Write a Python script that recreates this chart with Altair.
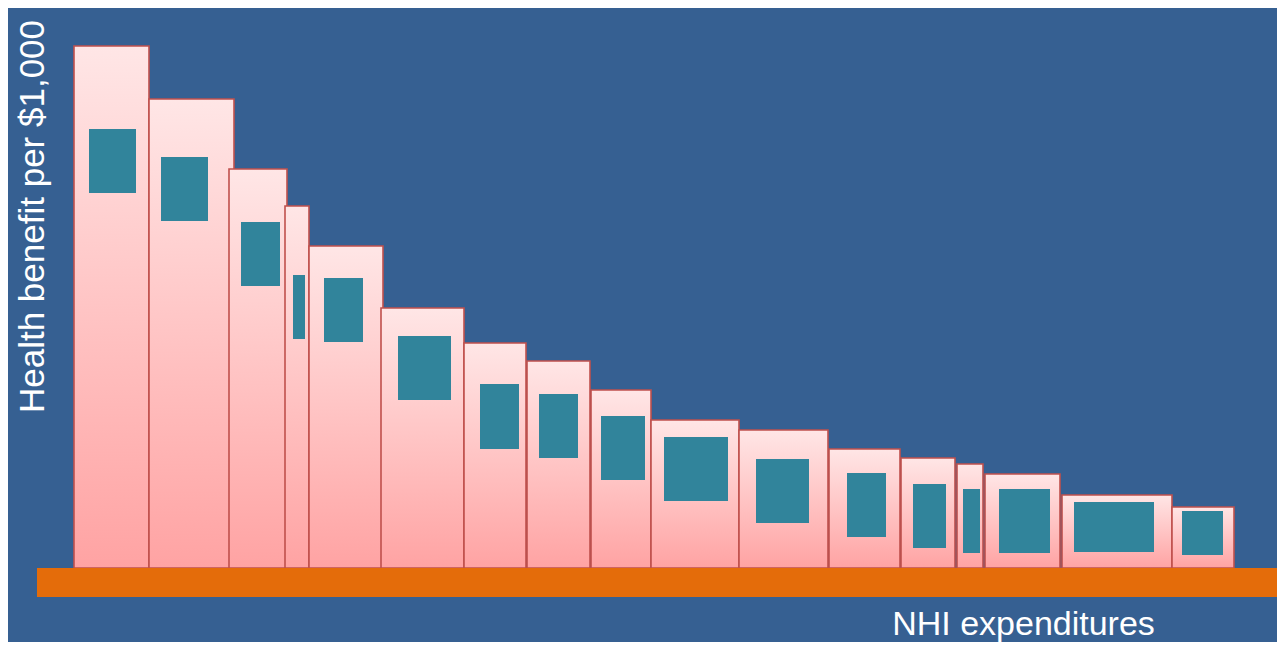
import altair as alt
import pandas as pd

# Bars: expenditure start/end and health benefit (height)
bar_x0 = [0, 75, 155, 211, 235, 307, 390, 453, 517, 577, 665, 755, 827, 883, 911, 988, 1098]
bar_x1 = [75, 160, 213, 235, 309, 390, 452, 516, 577, 665, 754, 826, 881, 909, 986, 1098, 1160]
bar_top = [522, 469, 399, 362, 322, 260, 225, 207, 178, 148, 138, 119, 110, 104, 94, 73, 61]

# Inner boxes
box_x0 = [15, 87, 167, 219, 250, 324, 406, 465, 527, 590, 682, 773, 839, 889, 925, 1000, 1108]
box_x1 = [62, 134, 206, 231, 289, 377, 445, 504, 571, 654, 735, 812, 872, 906, 976, 1080, 1149]
box_y0 = [375, 347, 282, 229, 226, 168, 119, 110, 88, 67, 45, 31, 20, 15, 15, 16, 13]
box_y1 = [439, 411, 346, 293, 290, 232, 184, 174, 152, 131, 109, 95, 84, 79, 79, 66, 57]

# Baseline band
base_x0 = [-37]
base_x1 = [1211]
base_y0 = [-29]
base_y1 = [0]

rows = []
for a, b, t in zip(bar_x0, bar_x1, bar_top):
    rows.append(dict(kind="bar", x=a, x2=b, y=0, y2=t))
for a, b, c, d in zip(box_x0, box_x1, box_y0, box_y1):
    rows.append(dict(kind="box", x=a, x2=b, y=c, y2=d))
for a, b, c, d in zip(base_x0, base_x1, base_y0, base_y1):
    rows.append(dict(kind="base", x=a, x2=b, y=c, y2=d))
df = pd.DataFrame(rows)

base = alt.Chart(df).encode(
    x=alt.X("x:Q", scale=alt.Scale(domain=[-66, 1203], nice=False, zero=False),
            axis=alt.Axis(title="NHI expenditures", labels=False, ticks=False, domain=False, grid=False,
                          titleColor="white", titleFont="Liberation Sans", titleFontSize=34,
                          titleFontWeight="normal", titleX=1015, titleY=-8, titleAlign="center",
                          titleBaseline="alphabetic")),
    x2="x2:Q",
    y=alt.Y("y:Q", scale=alt.Scale(domain=[-74, 560], nice=False, zero=False),
            axis=alt.Axis(title="Health benefit per $1,000", labels=False, ticks=False, domain=False, grid=False,
                          titleColor="white", titleFont="Liberation Sans", titleFontSize=35,
                          titleFontWeight="normal", titleX=35, titleY=208, titleAngle=270,
                          titleAlign="center", titleBaseline="alphabetic")),
    y2="y2:Q",
)

grad = alt.Gradient(
    gradient="linear",
    stops=[alt.GradientStop(color="#FFE6E6", offset=0), alt.GradientStop(color="#FFA3A3", offset=1)],
    x1=0, x2=0, y1=0, y2=1,
)

bars = base.transform_filter(alt.datum.kind == "bar").mark_rect(
    fill=grad, stroke="#C0504D", strokeWidth=1.6)
boxes = base.transform_filter(alt.datum.kind == "box").mark_rect(fill="#31849B")
band = base.transform_filter(alt.datum.kind == "base").mark_rect(fill="#E46C0A", clip=True)

chart = alt.layer(bars, band, boxes).properties(
    width=1269, height=634, padding=0,
    autosize=alt.AutoSizeParams(type="none"),
    background="#366092",
).configure_view(stroke=None)

chart.save("out.html", embed_options={"renderer": "svg", "actions": False})
